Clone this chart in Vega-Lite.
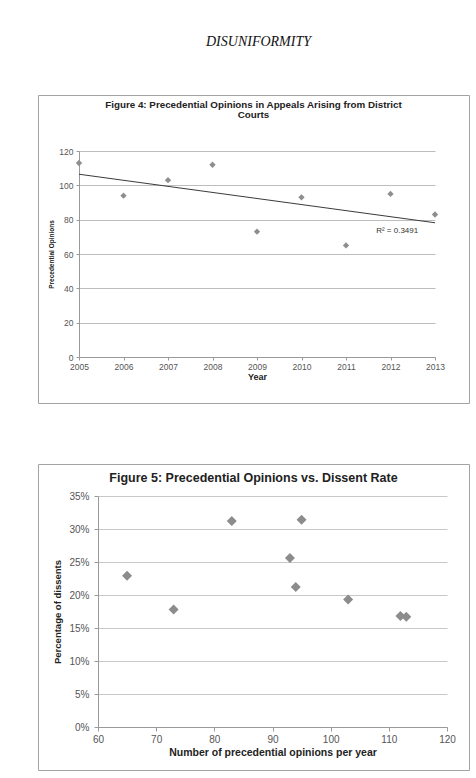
{
  "$schema": "https://vega.github.io/schema/vega-lite/v6.json",
  "padding": {"left": 37, "top": 34, "right": 7, "bottom": 9},
  "title": {
    "text": "DISUNIFORMITY",
    "font": "Liberation Serif",
    "fontSize": 14,
    "fontStyle": "italic",
    "fontWeight": "normal",
    "color": "#111111",
    "anchor": "middle",
    "dx": 5,
    "offset": 46
  },
  "datasets": {
    "circuit": [
      {"year": 2005, "opinions": 113, "dissent_rate": 0.167},
      {"year": 2006, "opinions": 94, "dissent_rate": 0.212},
      {"year": 2007, "opinions": 103, "dissent_rate": 0.193},
      {"year": 2008, "opinions": 112, "dissent_rate": 0.168},
      {"year": 2009, "opinions": 73, "dissent_rate": 0.178},
      {"year": 2010, "opinions": 93, "dissent_rate": 0.256},
      {"year": 2011, "opinions": 65, "dissent_rate": 0.229},
      {"year": 2012, "opinions": 95, "dissent_rate": 0.314},
      {"year": 2013, "opinions": 83, "dissent_rate": 0.312}
    ],
    "fit_note": [
      {"label": "R² = 0.3491"}
    ]
  },
  "spacing": 59,
  "vconcat": [
    {
      "width": 431,
      "height": 308,
      "title": {
        "text": ["Figure 4: Precedential Opinions in Appeals Arising from District", "Courts"],
        "fontSize": 9.8,
        "fontWeight": "bold",
        "lineHeight": 10,
        "color": "#222222",
        "anchor": "middle",
        "offset": -25
      },
      "layer": [
        {
          "data": {"name": "circuit"},
          "mark": {"type": "point", "shape": "diamond", "filled": true, "size": 40, "color": "#8e8e8e", "opacity": 1},
          "encoding": {
            "x": {
              "field": "year",
              "type": "quantitative",
              "scale": {"domain": [2005, 2013], "range": [41, 397], "nice": false, "zero": false},
              "axis": {
                "title": "Year",
                "values": [2005, 2006, 2007, 2008, 2009, 2010, 2011, 2012, 2013],
                "format": "d",
                "offset": -46,
                "grid": false,
                "labelFontSize": 8.5,
                "labelPadding": 2,
                "tickSize": 3,
                "titleFontSize": 9,
                "titlePadding": 2
              }
            },
            "y": {
              "field": "opinions",
              "type": "quantitative",
              "scale": {"domain": [0, 120], "range": [262, 56], "nice": false},
              "axis": {
                "title": "Precedential Opinions",
                "values": [0, 20, 40, 60, 80, 100, 120],
                "offset": -41,
                "grid": true,
                "gridColor": "#bdbdbd",
                "labelFontSize": 8.5,
                "labelPadding": 3,
                "tickSize": 3,
                "titleFontSize": 6.5,
                "titlePadding": 4
              }
            }
          }
        },
        {
          "data": {"name": "circuit"},
          "transform": [{"regression": "opinions", "on": "year", "extent": [2005, 2013]}],
          "mark": {"type": "line", "color": "#3a3a3a", "strokeWidth": 1},
          "encoding": {
            "x": {"field": "year", "type": "quantitative"},
            "y": {"field": "opinions", "type": "quantitative"}
          }
        },
        {
          "data": {"name": "fit_note"},
          "mark": {"type": "text", "fontSize": 8, "color": "#333333", "align": "center", "baseline": "middle"},
          "encoding": {
            "x": {"datum": 2012.15},
            "y": {"datum": 73.4},
            "text": {"field": "label"}
          }
        }
      ]
    },
    {
      "width": 431,
      "height": 306,
      "data": {"name": "circuit"},
      "title": {
        "text": "Figure 5: Precedential Opinions vs. Dissent Rate",
        "fontSize": 12.5,
        "fontWeight": "bold",
        "color": "#222222",
        "anchor": "middle",
        "offset": -20
      },
      "mark": {"type": "point", "shape": "diamond", "filled": true, "size": 100, "color": "#8c8c8c", "opacity": 1},
      "encoding": {
        "x": {
          "field": "opinions",
          "type": "quantitative",
          "scale": {"domain": [60, 120], "range": [60, 409], "nice": false, "zero": false},
          "axis": {
            "title": "Number of precedential opinions  per year",
            "values": [60, 70, 80, 90, 100, 110, 120],
            "offset": -43,
            "grid": false,
            "labelFontSize": 10,
            "labelPadding": 3,
            "tickSize": 4,
            "titleFontSize": 10.5,
            "titlePadding": 3
          }
        },
        "y": {
          "field": "dissent_rate",
          "type": "quantitative",
          "scale": {"domain": [0, 0.35], "range": [263, 32], "nice": false},
          "axis": {
            "title": "Percentage of dissents",
            "values": [0, 0.05, 0.1, 0.15, 0.2, 0.25, 0.3, 0.35],
            "format": ".0%",
            "offset": -60,
            "grid": true,
            "labelFontSize": 10,
            "labelPadding": 5,
            "tickSize": 4,
            "titleFontSize": 9.5,
            "titlePadding": 6
          }
        }
      }
    }
  ],
  "config": {
    "font": "Liberation Sans",
    "background": "white",
    "view": {"stroke": "#a3a3a3", "strokeWidth": 1},
    "axis": {
      "labelFont": "Liberation Sans",
      "titleFont": "Liberation Sans",
      "labelColor": "#555555",
      "titleColor": "#222222",
      "titleFontWeight": "bold",
      "domainColor": "#9a9a9a",
      "tickColor": "#9a9a9a",
      "gridColor": "#c8c8c8",
      "labelFlush": false,
      "labelOverlap": false
    }
  }
}
